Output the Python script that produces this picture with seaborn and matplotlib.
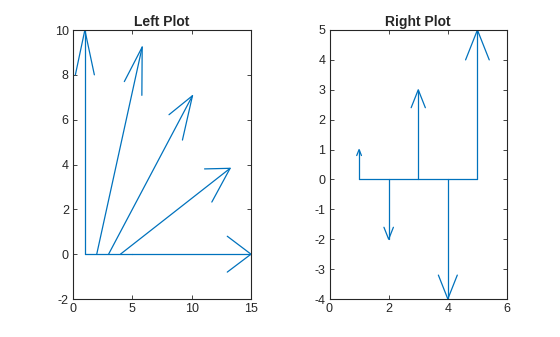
import numpy as np
import pandas as pd
import matplotlib
matplotlib.use("Agg")
import matplotlib.pyplot as plt
import seaborn as sns

# Data (feather plots: vectors start at x = 1..n on y = 0)
u_left = [0.0, 3.83, 7.07, 9.24, 10.0]
v_left = [10.0, 9.24, 7.07, 3.83, 0.0]
u_right = [0, 0, 0, 0, 0]
v_right = [1, -2, 3, -4, 5]
titles = ["Left Plot", "Right Plot"]
xlims = [(0, 15), (0, 6)]
ylims = [(-2, 10), (-4, 5)]
xticks = [[0, 5, 10, 15], [0, 2, 4, 6]]
yticks = [[-2, 0, 2, 4, 6, 8, 10], [-4, -3, -2, -1, 0, 1, 2, 3, 4, 5]]

# MATLAB feather arrow shape: shaft (0 -> 1) and head (.8+.08i -> 1 -> .8-.08i)
shaft = np.array([0, 1], dtype=complex)
head = np.array([.8 + .08j, 1, .8 - .08j])


def feather_df(u, v):
    rows = []
    n = len(u)
    uid = 0
    for k in range(n):
        w = complex(u[k], v[k])
        for part in (shaft, head):
            z = w * part + (k + 1)
            for p in z:
                rows.append({"x": p.real, "y": p.imag, "id": uid})
            uid += 1
    # baseline
    rows.append({"x": 1, "y": 0, "id": uid})
    rows.append({"x": n, "y": 0, "id": uid})
    return pd.DataFrame(rows)


sns.set_theme(style="ticks")
plt.rcParams["font.family"] = ["Liberation Sans", "DejaVu Sans"]
plt.rcParams["axes.unicode_minus"] = False
dark = "#262626"
blue = "#0072BD"

fig = plt.figure(figsize=(5.6, 3.37), dpi=100)
fig.patch.set_facecolor("white")
positions = [[73 / 560, 38 / 337, 178 / 560, 269 / 337],
             [329.5 / 560, 38 / 337, 177.5 / 560, 269 / 337]]
datas = [(u_left, v_left), (u_right, v_right)]

for i in range(2):
    ax = fig.add_axes(positions[i])
    df = feather_df(*datas[i])
    sns.lineplot(data=df, x="x", y="y", units="id", estimator=None,
                 sort=False, color=blue, lw=0.9, ax=ax, legend=False)
    ax.set_xlim(*xlims[i])
    ax.set_ylim(*ylims[i])
    ax.set_xticks(xticks[i])
    ax.set_yticks(yticks[i])
    ax.set_xlabel("")
    ax.set_ylabel("")
    ax.set_title(titles[i], fontsize=10, fontweight="bold", color=dark, pad=3)
    ax.tick_params(direction="in", length=3, width=0.6, top=True, right=True,
                   labelsize=9, colors=dark, pad=3)
    for s in ax.spines.values():
        s.set_visible(True)
        s.set_color(dark)
        s.set_linewidth(0.8)
    ax.set_facecolor("white")

fig.savefig("out.png", dpi=100, facecolor="white")
